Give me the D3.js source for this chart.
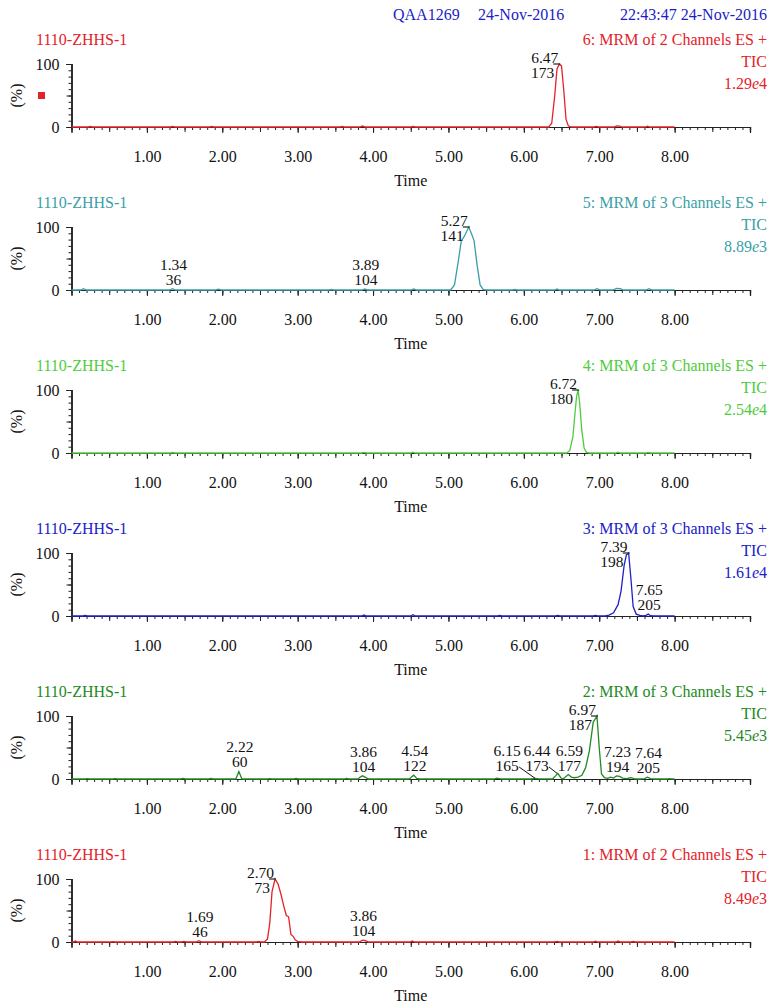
<!DOCTYPE html>
<html><head><meta charset="utf-8">
<script src="https://cdn.jsdelivr.net/npm/d3@7"></script>
<style>
body{margin:0;background:#fff;}
svg text{font-family:"Liberation Serif","Times New Roman",serif;}
</style></head><body>
<svg id="chart" width="776" height="1003"></svg>
<script>
// ---------- data ----------
const headerTexts = ["QAA1269", "24-Nov-2016", "22:43:47 24-Nov-2016"];
const sampleName = "1110-ZHHS-1";
const channelTitles = ["6: MRM of 2 Channels ES +", "5: MRM of 3 Channels ES +", "4: MRM of 3 Channels ES +",
  "3: MRM of 3 Channels ES +", "2: MRM of 3 Channels ES +", "1: MRM of 2 Channels ES +"];
const ticLabel = "TIC";
const intensityMantissa = ["1.29", "8.89", "2.54", "1.61", "5.45", "8.49"];
const intensityExponent = ["4", "3", "4", "4", "3", "3"];
const panelColors = ["#e42229", "#3a9fa6", "#4fcc3c", "#2020c8", "#238a23", "#e42229"];
const xMajorTicks = [1, 2, 3, 4, 5, 6, 7, 8];
const yLabelTicks = [0, 100];
const xAxisTitle = "Time";
const yAxisTitle = "(%)";

const trace6 = [[0,0],[0.22,0],[0.25,0.8],[0.28,0],[1.31,0],[1.34,1],[1.37,0],[1.83,0],[1.86,0.8],[1.89,0],[3.56,0],[3.59,0.8],[3.62,0],[3.82,0],[3.86,1.5],[3.90,0],[4.50,0],[4.53,0.8],[4.56,0],[6.33,0],[6.37,6],[6.41,50],[6.44,92],[6.47,100],[6.50,97],[6.53,58],[6.56,12],[6.59,2],[6.63,0],[6.93,0],[6.96,1],[6.99,0],[7.20,0],[7.23,1.8],[7.27,1.5],[7.31,0],[7.61,0],[7.64,1.2],[7.67,0],[8.00,0]];
const trace5 = [[0,0],[0.12,0],[0.16,2],[0.20,0],[1.30,0],[1.34,2],[1.38,0],[1.91,0],[1.95,1.2],[1.99,0],[3.42,0],[3.45,0.8],[3.48,0],[3.85,0],[3.89,1.5],[3.93,0],[4.50,0],[4.54,1.5],[4.58,0],[5.03,0],[5.08,8],[5.13,45],[5.17,78],[5.21,85],[5.27,100],[5.31,88],[5.34,78],[5.38,40],[5.42,8],[5.46,1],[5.50,0],[5.85,0],[5.88,0.8],[5.91,0],[6.41,0],[6.44,1.5],[6.47,0],[6.93,0],[6.97,2],[7.01,0],[7.18,0],[7.23,2.5],[7.28,2],[7.32,0],[7.62,0],[7.66,2],[7.70,0],[8.00,0]];
const trace4 = [[0,0],[1.31,0],[1.34,0.8],[1.37,0],[3.85,0],[3.88,1],[3.91,0],[4.50,0],[4.53,1.2],[4.56,0],[6.57,0],[6.61,4],[6.65,25],[6.68,65],[6.70,90],[6.72,100],[6.74,80],[6.77,35],[6.80,8],[6.83,1],[6.87,0],[7.22,0],[7.25,1.2],[7.28,0],[7.62,0],[7.65,0.8],[7.68,0],[8.00,0]];
const trace3 = [[0,0],[0.15,0],[0.18,0.8],[0.21,0],[3.85,0],[3.88,1.5],[3.91,0],[4.50,0],[4.53,2],[4.56,0],[5.65,0],[5.68,0.8],[5.71,0],[6.42,0],[6.45,1],[6.48,0],[6.92,0],[6.95,1],[6.98,0],[7.08,0],[7.13,1.5],[7.19,5],[7.25,18],[7.29,40],[7.33,80],[7.36,97],[7.39,100],[7.42,60],[7.45,15],[7.49,3],[7.54,1],[7.58,0],[7.62,1],[7.65,3],[7.68,0.5],[7.72,0],[8.00,0]];
const trace2 = [[0,0],[0.18,0],[0.21,0.6],[0.24,0],[0.55,0],[0.58,0.6],[0.61,0],[1.45,0],[1.48,1],[1.51,0],[1.82,0],[1.85,0.8],[1.88,0],[2.18,0],[2.22,12],[2.26,0],[2.60,0],[2.63,0.6],[2.66,0],[2.95,0],[2.98,0.8],[3.01,0],[3.62,0],[3.65,0.8],[3.68,0],[3.80,0],[3.83,3],[3.86,5],[3.90,2.5],[3.94,0],[4.48,0],[4.51,3],[4.54,6],[4.58,1],[4.62,0],[5.60,0],[5.64,1.5],[5.68,0.5],[5.72,0],[6.10,0],[6.15,1],[6.20,0.3],[6.38,0],[6.42,5],[6.45,9],[6.49,2],[6.52,0],[6.56,4],[6.59,7],[6.63,3],[6.67,2],[6.72,3],[6.77,6],[6.82,18],[6.87,45],[6.92,90],[6.97,100],[7.00,50],[7.03,8],[7.07,2],[7.11,1],[7.15,3],[7.19,1.5],[7.23,5],[7.27,4],[7.31,1.5],[7.36,0.5],[7.42,2],[7.46,0.5],[7.52,0],[7.60,0.5],[7.64,3],[7.68,0.5],[7.74,0],[7.90,0],[7.93,0.5],[7.96,0],[8.00,0]];
const trace1 = [[0,0],[0.02,0],[0.05,1.5],[0.08,0],[0.52,0],[0.55,0.6],[0.58,0],[1.35,0],[1.38,1],[1.41,0],[1.46,0],[1.49,1],[1.52,0],[1.65,0],[1.69,2],[1.73,0],[2.45,0],[2.48,0.8],[2.51,0],[2.56,0],[2.60,5],[2.63,30],[2.66,80],[2.70,100],[2.74,92],[2.78,75],[2.82,55],[2.85,42],[2.88,40],[2.91,12],[2.94,9],[2.97,3],[3.00,1],[3.05,0],[3.82,0],[3.86,3],[3.90,2],[3.94,0],[4.49,0],[4.52,1.5],[4.55,0],[6.41,0],[6.44,1],[6.47,0],[6.92,0],[6.95,1.2],[6.98,0],[7.22,0],[7.25,1.5],[7.28,0],[7.42,0],[7.45,0.8],[7.48,0],[8.00,0]];

const labels6 = [{t:6.47, v:100, scan:"173", side:true}];
const labels5 = [{t:1.34, v:2, scan:"36"}, {t:3.89, v:1.5, scan:"104"}, {t:5.27, v:100, scan:"141", side:true}];
const labels4 = [{t:6.72, v:100, scan:"180", side:true}];
const labels3 = [{t:7.39, v:100, scan:"198", side:true}, {t:7.65, v:3, scan:"205"}];
const labels2 = [{t:2.22, v:12, scan:"60"}, {t:3.86, v:5, scan:"104"}, {t:4.54, v:6, scan:"122"},
  {t:6.15, v:1, scan:"165", lead:-28}, {t:6.44, v:9, scan:"173", lead:-20}, {t:6.59, v:7, scan:"177"},
  {t:6.97, v:100, scan:"187", side:true}, {t:7.23, v:5, scan:"194"}, {t:7.64, v:3, scan:"205"}];
const labels1 = [{t:1.69, v:2, scan:"46"}, {t:2.70, v:100, scan:"73", side:true}, {t:3.86, v:3, scan:"104"}];

const traces = [trace6, trace5, trace4, trace3, trace2, trace1];
const peakLabels = [labels6, labels5, labels4, labels3, labels2, labels1];

// ---------- layout ----------
const svg = d3.select("#chart");
const FS = 16;
const LFS = 15.5;   // peak label font size
const LSP = 15;     // peak label line spacing
const headerColor = "#1c1cc8";
const panelStep = 163;
const axisLeft = 71.5, axisRight = 750;
const yTop0 = 64, yBot0 = 127;
const fmt2 = d3.format(".2f");

svg.append("text").attr("x", 393).attr("y", 20).attr("font-size", FS).attr("fill", headerColor).text(headerTexts[0]);
svg.append("text").attr("x", 478).attr("y", 20).attr("font-size", FS).attr("fill", headerColor).text(headerTexts[1]);
svg.append("text").attr("x", 767).attr("y", 20).attr("font-size", FS).attr("fill", headerColor).attr("text-anchor", "end").text(headerTexts[2]);

const x = d3.scaleLinear().domain([0, 9]).range([axisLeft, axisRight]);

traces.forEach((trace, i) => {
  const off = i * panelStep;
  const color = panelColors[i];
  const y = d3.scaleLinear().domain([0, 100]).range([yBot0 + off, yTop0 + off]);
  const g = svg.append("g");

  // titles
  g.append("text").attr("x", 36).attr("y", 45 + off).attr("font-size", FS).attr("fill", color).text(sampleName);
  g.append("text").attr("x", 767).attr("y", 45 + off).attr("font-size", FS).attr("fill", color).attr("text-anchor", "end").text(channelTitles[i]);
  g.append("text").attr("x", 767).attr("y", 67 + off).attr("font-size", FS).attr("fill", color).attr("text-anchor", "end").text(ticLabel);
  const it = g.append("text").attr("x", 767).attr("y", 89 + off).attr("font-size", FS).attr("fill", color).attr("text-anchor", "end");
  it.append("tspan").text(intensityMantissa[i]);
  it.append("tspan").attr("font-style", "italic").text("e");
  it.append("tspan").text(intensityExponent[i]);

  // y axis
  g.append("g").attr("transform", `translate(${axisLeft},0)`)
    .call(d3.axisLeft(y).tickValues(d3.range(0, 101, 10)).tickSize(3).tickFormat(""));
  g.append("g").attr("transform", `translate(${axisLeft},0)`)
    .call(d3.axisLeft(y).tickValues([0, 50, 100]).tickSize(5).tickFormat(""));
  const yLab = g.append("g").attr("transform", `translate(${axisLeft},0)`)
    .call(d3.axisLeft(y).tickValues(yLabelTicks).tickSize(5).tickPadding(7).tickFormat(d3.format("d")));
  yLab.selectAll("text").attr("font-size", FS).attr("fill", "#111").attr("font-family", "Liberation Serif");

  g.append("text").attr("font-size", FS).attr("fill", "#111").attr("text-anchor", "middle")
    .attr("transform", `translate(22,${(y(0) + y(100)) / 2}) rotate(-90)`).text(yAxisTitle);

  // x axis
  const xb = y(0);
  g.append("g").attr("transform", `translate(0,${xb})`)
    .call(d3.axisBottom(x).tickValues(d3.range(1, 90).map(d => d / 10)).tickSize(3).tickFormat(""));
  g.append("g").attr("transform", `translate(0,${xb})`)
    .call(d3.axisBottom(x).tickValues(d3.range(1, 18).map(d => d / 2)).tickSize(5).tickFormat(""));
  const xLab = g.append("g").attr("transform", `translate(0,${xb})`)
    .call(d3.axisBottom(x).tickValues(xMajorTicks).tickSize(6).tickPadding(18).tickFormat(fmt2));
  xLab.selectAll("text").attr("font-size", FS).attr("fill", "#111").attr("font-family", "Liberation Serif");
  g.selectAll(".domain").attr("stroke", "#222").attr("stroke-width", 1.2);
  g.selectAll(".tick line").attr("stroke", "#222");

  g.append("text").attr("x", (axisLeft + axisRight) / 2).attr("y", xb + 59).attr("font-size", FS)
    .attr("fill", "#111").attr("text-anchor", "middle").text(xAxisTitle);

  // trace
  const line = d3.line().x(d => x(d[0])).y(d => y(d[1]));
  g.append("path").datum(trace).attr("d", line).attr("fill", "none").attr("stroke", color).attr("stroke-width", 1.3);

  // red marker in first panel
  if (i === 0) {
    g.append("rect").attr("x", 38).attr("y", (y(0) + y(100)) / 2 - 3.5).attr("width", 7).attr("height", 7).attr("fill", color);
  }

  // peak labels
  peakLabels[i].forEach(p => {
    const px = x(p.t), py = y(p.v);
    if (p.side) {
      g.append("line").attr("x1", px - 6).attr("x2", px + 1).attr("y1", py).attr("y2", py).attr("stroke", "#222").attr("stroke-width", 1.2);
      g.append("text").attr("x", px - 1).attr("y", py - 1).attr("font-size", LFS).attr("fill", "#111").attr("text-anchor", "end").text(fmt2(p.t));
      g.append("text").attr("x", px - 5).attr("y", py - 1 + LSP).attr("font-size", LFS).attr("fill", "#111").attr("text-anchor", "end").text(p.scan);
    } else if (p.lead !== undefined) {
      const lx = px + p.lead, by = y(0) - 8;
      g.append("text").attr("x", lx).attr("y", by - LSP).attr("font-size", LFS).attr("fill", "#111").attr("text-anchor", "middle").text(fmt2(p.t));
      g.append("text").attr("x", lx).attr("y", by).attr("font-size", LFS).attr("fill", "#111").attr("text-anchor", "middle").text(p.scan);
      g.append("line").attr("x1", lx + 12).attr("y1", by - 4).attr("x2", px).attr("y2", py).attr("stroke", "#111").attr("stroke-width", 1);
    } else {
      const by = py - 4;
      g.append("text").attr("x", px + 1).attr("y", by - LSP).attr("font-size", LFS).attr("fill", "#111").attr("text-anchor", "middle").text(fmt2(p.t));
      g.append("text").attr("x", px + 1).attr("y", by).attr("font-size", LFS).attr("fill", "#111").attr("text-anchor", "middle").text(p.scan);
    }
  });
});
</script></body></html>
